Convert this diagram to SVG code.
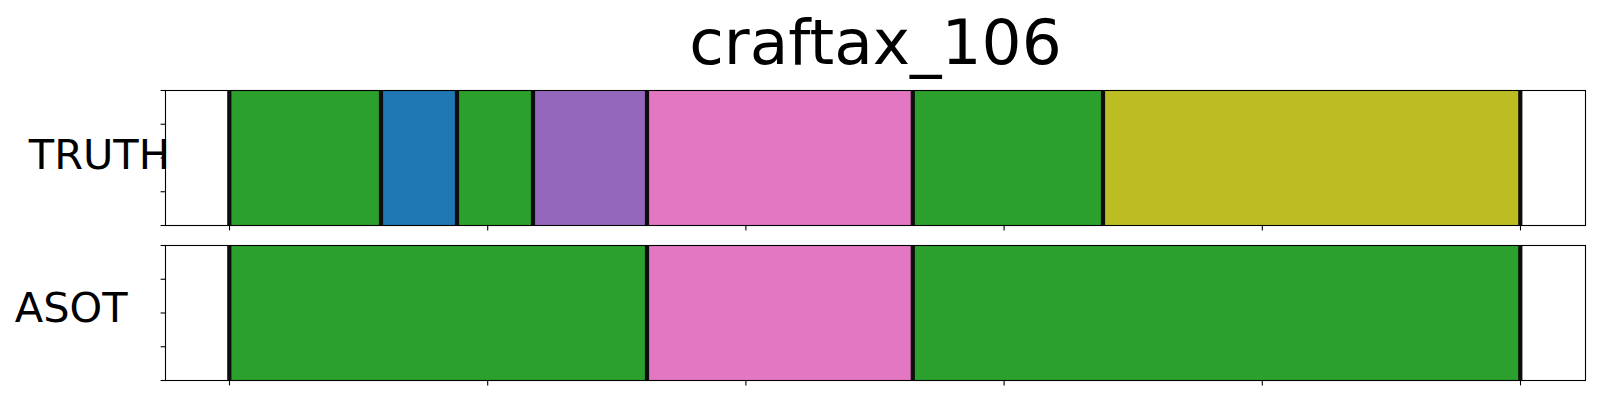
<svg xmlns="http://www.w3.org/2000/svg" width="1600" height="400" viewBox="0 0 1600 400">
<style>
text{font-family:"DejaVu Sans","Liberation Sans",sans-serif;fill:#000}
.title{font-size:63px;text-anchor:middle}
.lab{font-size:41.5px}
.frame{fill:none;stroke:#000;stroke-width:1.1}
.tick{stroke:#000;stroke-width:1.1}
.bnd{stroke:#0d0d0d;stroke-width:4.2}
.g{fill:#2ca02c}.b{fill:#1f77b4}.p{fill:#9467bd}.k{fill:#e377c2}.o{fill:#bcbd22}
</style>
<rect width="1600" height="400" fill="#fff"/>
<text class="title" x="875.5" y="63.5">craftax_106</text>
<g id="truth">
<rect x="165.5" y="90.5" width="1420" height="135" fill="#fff"/>
<rect class="g" x="229.3" y="90.5" width="151.7" height="135"/>
<rect class="b" x="381" y="90.5" width="76" height="135"/>
<rect class="g" x="457" y="90.5" width="76" height="135"/>
<rect class="p" x="533" y="90.5" width="114" height="135"/>
<rect class="k" x="647" y="90.5" width="265.8" height="135"/>
<rect class="g" x="912.8" y="90.5" width="190.2" height="135"/>
<rect class="o" x="1103" y="90.5" width="417.3" height="135"/>
<g>
<line class="bnd" x1="229.3" y1="90.5" x2="229.3" y2="225.5"/>
<line class="bnd" x1="381" y1="90.5" x2="381" y2="225.5"/>
<line class="bnd" x1="457" y1="90.5" x2="457" y2="225.5"/>
<line class="bnd" x1="533" y1="90.5" x2="533" y2="225.5"/>
<line class="bnd" x1="647" y1="90.5" x2="647" y2="225.5"/>
<line class="bnd" x1="912.8" y1="90.5" x2="912.8" y2="225.5"/>
<line class="bnd" x1="1103" y1="90.5" x2="1103" y2="225.5"/>
<line class="bnd" x1="1520.3" y1="90.5" x2="1520.3" y2="225.5"/>
</g>
<rect class="frame" x="165.5" y="90.5" width="1420" height="135"/>
<g>
<line class="tick" x1="160.6" y1="90.5" x2="165.5" y2="90.5"/>
<line class="tick" x1="160.6" y1="124.25" x2="165.5" y2="124.25"/>
<line class="tick" x1="160.6" y1="158" x2="165.5" y2="158"/>
<line class="tick" x1="160.6" y1="191.75" x2="165.5" y2="191.75"/>
<line class="tick" x1="160.6" y1="225.5" x2="165.5" y2="225.5"/>
<line class="tick" x1="229.5" y1="225.5" x2="229.5" y2="230.4"/>
<line class="tick" x1="487.7" y1="225.5" x2="487.7" y2="230.4"/>
<line class="tick" x1="745.9" y1="225.5" x2="745.9" y2="230.4"/>
<line class="tick" x1="1004.1" y1="225.5" x2="1004.1" y2="230.4"/>
<line class="tick" x1="1262.3" y1="225.5" x2="1262.3" y2="230.4"/>
<line class="tick" x1="1520.5" y1="225.5" x2="1520.5" y2="230.4"/>
</g>
<text class="lab" x="28.8" y="169.3">TRUTH</text>
</g>
<g id="asot">
<rect x="165.5" y="245.5" width="1420" height="135" fill="#fff"/>
<rect class="g" x="229.3" y="245.5" width="417.7" height="135"/>
<rect class="k" x="647" y="245.5" width="265.8" height="135"/>
<rect class="g" x="912.8" y="245.5" width="607.5" height="135"/>
<g>
<line class="bnd" x1="229.3" y1="245.5" x2="229.3" y2="380.5"/>
<line class="bnd" x1="647" y1="245.5" x2="647" y2="380.5"/>
<line class="bnd" x1="912.8" y1="245.5" x2="912.8" y2="380.5"/>
<line class="bnd" x1="1520.3" y1="245.5" x2="1520.3" y2="380.5"/>
</g>
<rect class="frame" x="165.5" y="245.5" width="1420" height="135"/>
<g>
<line class="tick" x1="160.6" y1="245.5" x2="165.5" y2="245.5"/>
<line class="tick" x1="160.6" y1="279.25" x2="165.5" y2="279.25"/>
<line class="tick" x1="160.6" y1="313" x2="165.5" y2="313"/>
<line class="tick" x1="160.6" y1="346.75" x2="165.5" y2="346.75"/>
<line class="tick" x1="160.6" y1="380.5" x2="165.5" y2="380.5"/>
<line class="tick" x1="229.5" y1="380.5" x2="229.5" y2="385.4"/>
<line class="tick" x1="487.7" y1="380.5" x2="487.7" y2="385.4"/>
<line class="tick" x1="745.9" y1="380.5" x2="745.9" y2="385.4"/>
<line class="tick" x1="1004.1" y1="380.5" x2="1004.1" y2="385.4"/>
<line class="tick" x1="1262.3" y1="380.5" x2="1262.3" y2="385.4"/>
<line class="tick" x1="1520.5" y1="380.5" x2="1520.5" y2="385.4"/>
</g>
<text class="lab" x="14.8" y="322.3">ASOT</text>
</g>
</svg>
